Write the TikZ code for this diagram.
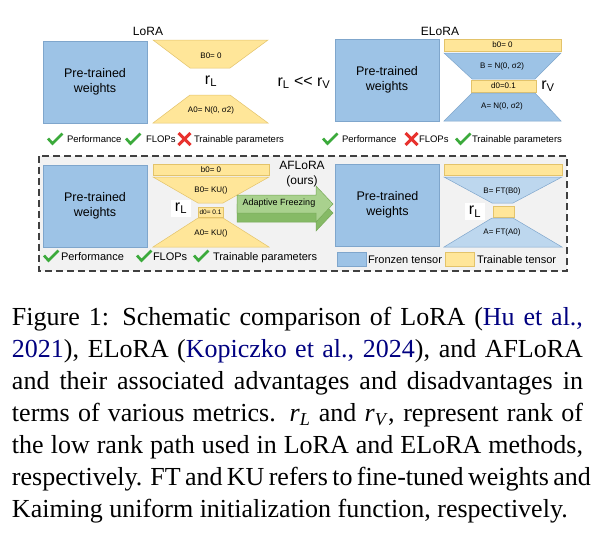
\documentclass[tikz,border=0pt]{standalone}
\usepackage{fontspec}
\setmainfont{Liberation Serif}
\setsansfont{Liberation Sans}
\definecolor{pblue}{HTML}{9DC3E6}
\definecolor{pblueedge}{HTML}{7FA6CC}
\definecolor{lblue}{HTML}{BDD7EE}
\definecolor{pyel}{HTML}{FFE699}
\definecolor{pyeledge}{HTML}{E3C36A}
\definecolor{gfront}{HTML}{A9D18E}
\definecolor{gdark}{HTML}{86BA66}
\definecolor{gedge}{HTML}{76A956}
\definecolor{chk}{HTML}{3BAA3B}
\definecolor{crs}{HTML}{E8322E}
\definecolor{cite}{HTML}{000080}
\definecolor{boxbg}{HTML}{F2F2F2}
\definecolor{dashc}{HTML}{404040}
\begin{document}
\begin{tikzpicture}[x=1pt,y=-1pt,
  every node/.style={inner sep=0pt, outer sep=0pt},
  pw/.style={draw=pblueedge, fill=pblue, line width=0.6pt, font=\sffamily\fontsize{12.5}{15}\selectfont, align=center, minimum width=104pt, minimum height=82pt},
  ytrap/.style={draw=pyeledge, fill=pyel, line width=0.5pt},
  btrap/.style={draw=pblueedge, fill=pblue, line width=0.5pt},
  lbtrap/.style={draw=pblueedge, fill=lblue, line width=0.5pt},
  lbl/.style={font=\sffamily\fontsize{8}{9}\selectfont},
  ttl/.style={font=\sffamily\fontsize{12}{14}\selectfont},
  rank/.style={font=\sffamily\fontsize{16}{18}\selectfont},
  okmark/.pic={\draw[chk, line width=2.7pt, line join=miter] (-7,-0.5) -- (-2.5,4.5) -- (7.5,-5.5);},
  nomark/.pic={\draw[crs, line width=3pt] (-6,-6) -- (6,6) (-6,6) -- (6,-6);},
  mtxt/.style={font=\sffamily\fontsize{9.5}{11}\selectfont, anchor=base west},
  mtxtb/.style={font=\sffamily\fontsize{11}{13}\selectfont, anchor=base west}
]
\useasboundingbox (0,0) rectangle (616,536);
\fill[white] (0,0) rectangle (616,536);

% ---------------- LoRA ----------------
\node[ttl] (tLoRA) at (148,31) {LoRA};
\node[pw] (pw1) at (95,82) {Pre-trained\\weights};
\draw[ytrap] (153,40) -- (268,40) -- (230,68) -- (190,68) -- cycle;
\draw[ytrap] (190,95) -- (230,95) -- (268,123) -- (153,123) -- cycle;
\node[lbl] (lB0) at (211,56) {B0= 0};
\node[rank] (rL1) at (211,81) {r\textsubscript{L}};
\node[lbl] (lA0) at (211,110) {A0= N(0, σ2)};
\node[rank] (cmp) at (304,83) {r\textsubscript{L} <\kern0pt< r\textsubscript{V}};

\pic at (55,139) {okmark};
\node[mtxt] (m11) at (67,142.5) {Performance};
\pic at (133,139) {okmark};
\node[mtxt] (m12) at (146,142.5) {FLOPs};
\pic at (184.5,139) {nomark};
\node[mtxt] (m13) at (194,142.5) {Trainable parameters};

% ---------------- ELoRA ----------------
\node[ttl] (tELoRA) at (440,31) {ELoRA};
\node[pw] (pw2) at (387,80) {Pre-trained\\weights};
\node[draw=pyeledge, fill=pyel, line width=0.5pt, minimum width=117pt, minimum height=12pt] (eb0) at (502.5,45) {};
\node[lbl] at (eb0) {b0= 0};
\draw[btrap] (444,53) -- (561,53) -- (535,79) -- (472,79) -- cycle;
\node[draw=pyeledge, fill=pyel, line width=0.5pt, minimum width=65pt, minimum height=12pt] (ed0) at (503.5,86) {};
\node[lbl] at (ed0) {d0=0.1};
\draw[btrap] (472,93) -- (535,93) -- (561,121) -- (444,121) -- cycle;
\node[lbl] (eB) at (502,66) {B = N(0, σ2)};
\node[lbl] (eA) at (502,106) {A= N(0, σ2)};
\node[rank] (rV) at (548,86) {r\textsubscript{V}};

\pic at (330,139) {okmark};
\node[mtxt] (m21) at (342,142.5) {Performance};
\pic at (411.5,139) {nomark};
\node[mtxt] (m22) at (419,142.5) {FLOPs};
\pic at (463,139) {okmark};
\node[mtxt] (m23) at (472,142.5) {Trainable parameters};

% ---------------- AFLoRA ----------------
\draw[dashc, fill=boxbg, line width=1.1pt, dash pattern=on 7pt off 4pt] (39,156) rectangle (567,271);
\node[pw] (pw3) at (95,206) {Pre-trained\\weights};
\node[draw=pyeledge, fill=pyel, line width=0.5pt, minimum width=116pt, minimum height=11pt] (ab0) at (211,169.5) {};
\node[lbl] at (ab0) {b0= 0};
\draw[ytrap] (153,177) -- (269,177) -- (223,203) -- (198,203) -- cycle;
\node[draw=pyeledge, fill=pyel, line width=0.5pt, minimum width=25pt, minimum height=10pt] (ad0) at (210.5,212) {};
\node[font=\sffamily\fontsize{6.5}{7}\selectfont] at (ad0) {d0= 0.1};
\draw[ytrap] (198,218) -- (223,218) -- (269,247) -- (153,247) -- cycle;
\node[lbl] (aB0) at (211,190) {B0= KU()};
\node[lbl] (aA0) at (211,233) {A0= KU()};
\node[rank, fill=white, minimum width=20pt, minimum height=17pt] (rL2) at (181,208) {r\textsubscript{L}};

\node[ttl] (tAF) at (302,165) {AFLoRA};
\node[ttl] (tours) at (302,181) {(ours)};

% 3D arrow
\fill[gdark, draw=gedge, line width=0.5pt] (237,204) -- (316,204) -- (316,195) -- (333,213) -- (316,231) -- (316,222) -- (237,222) -- cycle;
\fill[gfront, draw=gedge, line width=0.5pt] (237,195) -- (316,195) -- (316,186) -- (333,204) -- (316,222) -- (316,213) -- (237,213) -- cycle;
\node[font=\sffamily\fontsize{9}{10}\selectfont] (adf) at (279,203.5) {Adaptive Freezing};

\node[pw] (pw4) at (387.5,205) {Pre-trained\\weights};
\node[draw=pyeledge, fill=pyel, line width=0.5pt, minimum width=118pt, minimum height=11pt] (fb) at (503,169.5) {};
\draw[lbtrap] (444,177) -- (562,177) -- (513,203) -- (492,203) -- cycle;
\node[draw=pyeledge, fill=pyel, line width=0.5pt, minimum width=21pt, minimum height=11pt] (fd) at (503.5,211.5) {};
\draw[lbtrap] (492,218) -- (513,218) -- (562,247) -- (444,247) -- cycle;
\node[lbl] (fB) at (502,191) {B= FT(B0)};
\node[lbl] (fA) at (502,232) {A= FT(A0)};
\node[rank, fill=white, minimum width=20pt, minimum height=17pt] (rL3) at (475,211.5) {r\textsubscript{L}};

\pic at (51,256) {okmark};
\node[mtxtb] (m31) at (61,260) {Performance};
\pic at (144,256) {okmark};
\node[mtxtb] (m32) at (153,260) {FLOPs};
\pic at (201,256) {okmark};
\node[mtxtb] (m33) at (213,260) {Trainable parameters};

\node[draw=pblueedge, fill=pblue, line width=0.5pt, minimum width=29pt, minimum height=14pt] (legb) at (351.5,259) {};
\node[mtxtb] (legbt) at (368,263) {Fronzen tensor};
\node[draw=pyeledge, fill=pyel, line width=0.5pt, minimum width=29pt, minimum height=14pt] (legy) at (459.5,259) {};
\node[mtxtb] (legyt) at (477,263) {Trainable tensor};

% ---------------- Caption ----------------
\node[anchor=north west, align=left, font=\fontsize{26}{31.9}\selectfont] (cap) at (12,307.5) {%
\makebox[571pt][s]{Figure 1: Schematic comparison of LoRA (\textcolor{cite}{Hu et al.,}}\\
\makebox[571pt][s]{\textcolor{cite}{2021}), ELoRA (\textcolor{cite}{Kopiczko et al., 2024}), and AFLoRA}\\
\makebox[571pt][s]{and their associated advantages and disadvantages in}\\
\makebox[571pt][s]{terms of various metrics. \textit{r}\textsubscript{\textit{L}} and \textit{r}\textsubscript{\textit{V}}, represent rank of}\\
\makebox[571pt][s]{the low rank path used in LoRA and ELoRA methods,}\\
\makebox[571pt][s]{respectively. FT and KU refers to fine-tuned weights and}\\
Kaiming uniform initialization function, respectively.};
\end{tikzpicture}
\end{document}
